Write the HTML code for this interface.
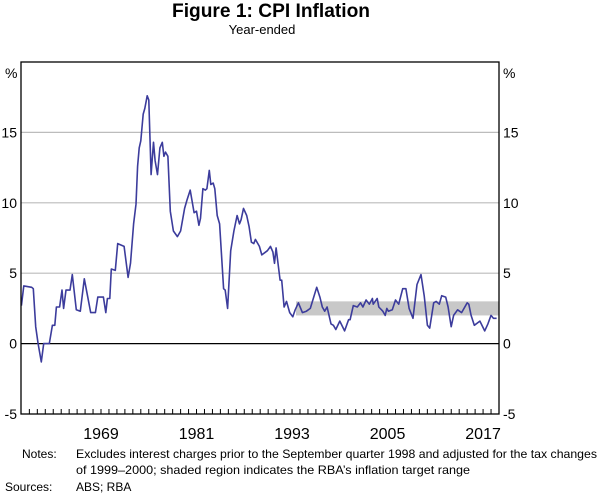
<!DOCTYPE html>
<html><head><meta charset="utf-8">
<style>
html,body{margin:0;padding:0;background:#fff;}
svg{display:block;font-family:"Liberation Sans",Arial,sans-serif;}
</style></head>
<body>
<svg id="chart" width="600" height="494" viewBox="0 0 600 494">
<text x="172" y="17" textLength="198" lengthAdjust="spacingAndGlyphs" font-size="19" font-weight="bold">Figure 1: CPI Inflation</text>
<text x="262" y="34" text-anchor="middle" font-size="13">Year-ended</text>
<g id="grid"></g>
<g id="band"></g>
<g id="series"></g>
<g id="axes"></g>
<text x="5" y="78" font-size="14">%</text>
<text x="503" y="78" font-size="14">%</text>
<g font-size="12">
<text x="22" y="458">Notes:</text>
<text x="76" y="458" textLength="521" lengthAdjust="spacingAndGlyphs">Excludes interest charges prior to the September quarter 1998 and adjusted for the tax changes</text>
<text x="76" y="474" textLength="394" lengthAdjust="spacingAndGlyphs">of 1999–2000; shaded region indicates the RBA’s inflation target range</text>
<text x="5" y="491">Sources:</text>
<text x="76" y="491">ABS; RBA</text>
</g>
</svg>
<script>
const years=[1959.0,1959.3,1960.3,1960.5,1960.8,1961.1,1961.5,1961.8,1962.5,1962.9,1963.2,1963.4,1963.8,1964.1,1964.3,1964.6,1965.1,1965.4,1965.9,1966.4,1966.9,1967.3,1967.7,1968.3,1968.6,1969.3,1969.6,1969.8,1970.1,1970.3,1970.8,1971.1,1971.9,1972.4,1972.7,1973.1,1973.4,1973.6,1973.8,1974.0,1974.3,1974.5,1974.8,1975.0,1975.3,1975.6,1975.8,1976.1,1976.4,1976.7,1976.9,1977.1,1977.4,1977.7,1978.1,1978.6,1979.0,1979.5,1979.8,1980.2,1980.7,1981.0,1981.3,1981.5,1981.8,1982.1,1982.3,1982.6,1982.8,1983.1,1983.3,1983.6,1983.9,1984.4,1984.6,1984.9,1985.3,1985.7,1986.1,1986.4,1986.6,1986.9,1987.3,1987.6,1987.9,1988.2,1988.4,1988.9,1989.2,1989.9,1990.3,1990.6,1990.8,1991.0,1991.5,1991.7,1992.0,1992.3,1992.7,1993.1,1993.4,1993.8,1994.3,1994.8,1995.3,1996.1,1996.5,1996.8,1997.1,1997.4,1997.9,1998.2,1998.5,1999.0,1999.6,2000.1,2000.3,2000.7,2001.2,2001.6,2001.9,2002.3,2002.7,2003.1,2003.2,2003.7,2003.9,2004.4,2004.7,2004.9,2005.1,2005.6,2006.0,2006.4,2006.9,2007.3,2007.7,2008.2,2008.7,2009.2,2009.6,2010.0,2010.3,2010.8,2011.1,2011.5,2011.8,2012.3,2012.6,2013.0,2013.3,2013.8,2014.3,2015.0,2015.2,2015.5,2015.9,2016.6,2017.2,2017.6,2018.0,2018.3,2018.7];
const inflation=[2.7,4.1,4.0,3.9,1.2,0,-1.3,0,0,1.3,1.3,2.6,2.6,3.8,2.5,3.8,3.8,4.9,2.4,2.3,4.6,3.4,2.2,2.2,3.3,3.3,2.2,3.2,3.2,5.3,5.2,7.1,6.9,4.7,5.7,8.5,9.9,12.6,13.9,14.4,16.3,16.7,17.6,17.3,12.0,14.3,13.0,12.0,13.9,14.3,13.3,13.6,13.3,9.4,8.0,7.6,8.0,9.6,10.2,10.9,9.3,9.4,8.4,8.9,11.0,10.9,11.0,12.3,11.3,11.4,11.0,9.1,8.5,3.9,3.8,2.5,6.6,8.0,9.1,8.5,8.8,9.6,9.1,8.3,7.2,7.1,7.4,6.9,6.3,6.6,6.9,6.5,5.7,6.8,4.5,4.5,2.6,3.0,2.2,1.9,2.4,2.9,2.2,2.3,2.5,4.0,3.3,2.6,2.3,2.6,1.4,1.3,1.0,1.6,0.9,1.7,1.7,2.7,2.6,2.9,2.6,3.1,2.8,3.2,2.8,3.2,2.6,2.3,2.0,2.5,2.3,2.4,3.1,2.8,3.9,3.9,2.5,1.8,4.2,4.9,3.4,1.3,1.1,2.9,3.0,2.8,3.4,3.3,2.6,1.2,2.0,2.4,2.2,2.9,2.8,2.0,1.3,1.6,0.9,1.4,2.0,1.8,1.8];
const targetBand=[2,3];
const bandStart=1993.5;
const yTicks=[-5,0,5,10,15];
const xLabels=[1969,1981,1993,2005,2017];

const L=21,R=499,T=62,B=414;
const X0=1958.95,X1=2019.0,Y0=-5,Y1=20;
const xs=t=>L+(t-X0)/(X1-X0)*(R-L);
const ys=v=>B-(v-Y0)/(Y1-Y0)*(B-T);
const NS='http://www.w3.org/2000/svg';
function mk(tag,parent,attrs){const e=document.createElementNS(NS,tag);for(const k in attrs)e.setAttribute(k,attrs[k]);parent.appendChild(e);return e;}
const grid=document.getElementById('grid'),axes=document.getElementById('axes'),band=document.getElementById('band'),series=document.getElementById('series');

yTicks.forEach(v=>{
  if(v!==Y0){
    const g=mk('line',grid,{x1:L,x2:R,y1:ys(v),y2:ys(v),stroke:v===0?'#000':'#bcbcbc','stroke-width':v===0?1.3:1.2});
    
    
  }
  const a=mk('text',axes,{x:17,y:ys(v)+5,'text-anchor':'end','font-size':14});
  a.textContent=v;
  
  
  const b=mk('text',axes,{x:503,y:ys(v)+5,'font-size':14});
  b.textContent=v;
  
  
});

const rect=mk('rect',band,{x:xs(bandStart),y:ys(targetBand[1]),width:R-xs(bandStart),height:ys(targetBand[0])-ys(targetBand[1]),fill:'#c8c8c8'});



let d='';
years.forEach((t,i)=>{d+=(i?'L':'M')+xs(t).toFixed(1)+','+ys(inflation[i]).toFixed(1);});
const line=mk('path',series,{d:d,fill:'none',stroke:'#3c3c9c','stroke-width':1.6,'stroke-linejoin':'round'});



const frame=mk('rect',axes,{x:L,y:T,width:R-L,height:B-T,fill:'none',stroke:'#000','stroke-width':1.3});



for(let yr=1960;yr<=2018;yr++){
  const tk=mk('line',axes,{x1:xs(yr),x2:xs(yr),y1:B,y2:B-5,stroke:'#000','stroke-width':1});
  
  
}
xLabels.forEach(yr=>{
  const t=mk('text',axes,{x:xs(yr),y:439,'text-anchor':'middle','font-size':16});
  t.textContent=yr;
  
  
});
</script>
</body></html>
